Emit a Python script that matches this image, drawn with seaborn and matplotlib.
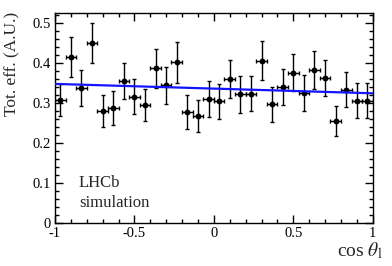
import numpy as np
import pandas as pd
import matplotlib
matplotlib.use("Agg")
import matplotlib.pyplot as plt
import seaborn as sns
from matplotlib.ticker import MultipleLocator, FuncFormatter

# 30 bins in cos theta_l
bin_centres = np.linspace(-1 + 1/30, 1 - 1/30, 30)
bin_half = [1/30] * 30
eff = [0.307, 0.415, 0.336, 0.449, 0.278, 0.286, 0.354, 0.315, 0.293, 0.386,
       0.343, 0.401, 0.276, 0.267, 0.309, 0.303, 0.359, 0.321, 0.322, 0.405,
       0.296, 0.339, 0.375, 0.325, 0.381, 0.362, 0.254, 0.332, 0.305, 0.305]
eff_err = [0.040, 0.050, 0.045, 0.051, 0.040, 0.042, 0.046, 0.043, 0.040, 0.049,
           0.047, 0.051, 0.043, 0.040, 0.045, 0.043, 0.048, 0.046, 0.044, 0.049,
           0.044, 0.044, 0.047, 0.045, 0.047, 0.045, 0.038, 0.044, 0.043, 0.043]
fit_x = [-1.0, 1.0]
fit_y = [0.347, 0.3235]

df = pd.DataFrame({"cos": bin_centres, "eff": eff})
df_fit = pd.DataFrame({"cos": fit_x, "eff": fit_y})

sns.set_theme(style="ticks")
plt.rcParams["font.family"] = ["Liberation Serif", "DejaVu Serif"]
plt.rcParams["mathtext.fontset"] = "stix"
plt.rcParams["axes.unicode_minus"] = False

fig = plt.figure(figsize=(3.92, 2.66), dpi=100)
ax = fig.add_axes([0.1403, 0.1628, 0.8105, 0.7872])

ax.errorbar(df["cos"], df["eff"], yerr=eff_err, xerr=bin_half, fmt="none",
            ecolor="black", elinewidth=1.0, capsize=1.2, capthick=1.0, zorder=2)
sns.scatterplot(data=df, x="cos", y="eff", color="black", s=18,
                edgecolor="black", linewidth=0, ax=ax, zorder=3)
sns.lineplot(data=df_fit, x="cos", y="eff", color="#1414ff", linewidth=1.6,
             ax=ax, zorder=4)

ax.set_xlim(-1, 1)
ax.set_ylim(0, 0.5235)
ax.xaxis.set_major_locator(MultipleLocator(0.5))
ax.xaxis.set_minor_locator(MultipleLocator(0.1))
ax.yaxis.set_major_locator(MultipleLocator(0.1))
ax.yaxis.set_minor_locator(MultipleLocator(0.02))
fmt = FuncFormatter(lambda v, p: f"{v:g}")
ax.xaxis.set_major_formatter(fmt)
ax.yaxis.set_major_formatter(fmt)
ax.tick_params(which="both", direction="in", top=True, right=True,
               labelsize=10.5, width=1.0, colors="black", pad=3)
ax.tick_params(which="major", length=6)
ax.tick_params(which="minor", length=3)
for s in ax.spines.values():
    s.set_linewidth(1.0)
    s.set_color("black")

ax.set_xlabel(r"cos $\theta_{\mathrm{l}}$", fontsize=14, loc="right")
ax.xaxis.set_label_coords(1.03, -0.085)
ax.set_ylabel("Tot. eff. (A.U.)", fontsize=12.5, loc="top")
ax.yaxis.set_label_coords(-0.11, 1.006)

ax.text(-0.85, 0.099, "LHCb", fontsize=12, va="center", ha="left")
ax.text(-0.85, 0.049, "simulation", fontsize=12, va="center", ha="left")

fig.savefig("out.png", dpi=100)
